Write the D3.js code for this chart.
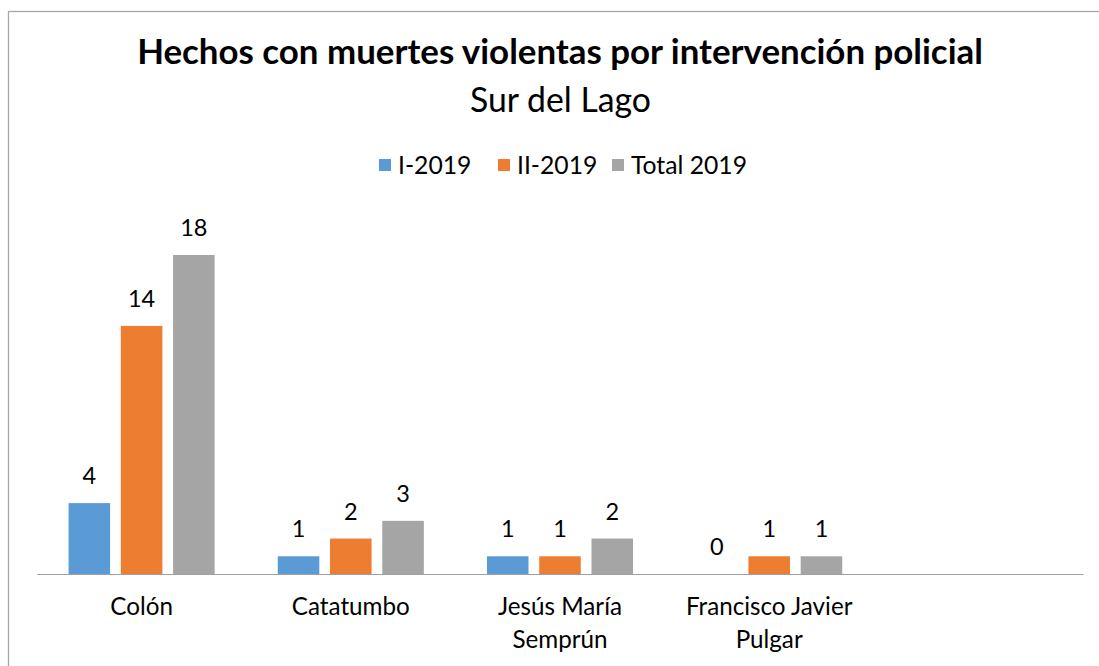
<!DOCTYPE html>
<html>
<head>
<meta charset="utf-8">
<script src="https://cdn.jsdelivr.net/npm/d3@7"></script>
<style>
  html, body { margin: 0; padding: 0; background: #fff; }
  svg { display: block; }
  text { font-family: Lato, "Open Sans", sans-serif; fill: #000; }
</style>
</head>
<body>
<svg id="chart" width="1099" height="666"></svg>
<script>
// ---- data ----
const titleText = "Hechos con muertes violentas por intervención policial";
const subtitleText = "Sur del Lago";
const categories = ["Colón", "Catatumbo", "Jesús María Semprún", "Francisco Javier Pulgar", ""];
const seriesNames = ["I-2019", "II-2019", "Total 2019"];
const seriesI = [4, 1, 1, 0, null];
const seriesII = [14, 2, 1, 1, null];
const seriesTotal = [18, 3, 2, 1, null];
const seriesColors = ["#5b9bd5", "#ed7d31", "#a5a5a5"];

const seriesValues = [seriesI, seriesII, seriesTotal];

const svg = d3.select("#chart");
const W = 1099, H = 666;

// text measurement helper
const measurer = svg.append("text").attr("x", -1000).attr("y", -1000);
function textWidth(str, size, weight) {
  measurer.attr("font-size", size).attr("font-weight", weight || "normal").text(str);
  return measurer.node().getComputedTextLength();
}
function fitSize(str, target, weight) {
  const w = textWidth(str, 100, weight);
  return 100 * target / w;
}

const titleSize = fitSize(titleText, 846, "bold");
const subSize = fitSize(subtitleText, 181, "normal");
const legendSize = fitSize("Total 2019", 116, "normal");
const catSize = fitSize("Catatumbo", 118, "normal");
const valSize = 23.5;
measurer.remove();

// border
svg.append("rect")
  .attr("x", 8.5).attr("y", 11.5)
  .attr("width", W).attr("height", H)
  .attr("fill", "none")
  .attr("stroke", "#a6a6a6")
  .attr("stroke-width", 1.3);

// title
svg.append("text")
  .attr("x", 560).attr("y", 64)
  .attr("text-anchor", "middle")
  .attr("font-weight", "bold")
  .attr("font-size", titleSize)
  .text(titleText);
svg.append("text")
  .attr("x", 560.5).attr("y", 111.5)
  .attr("text-anchor", "middle")
  .attr("font-size", subSize)
  .text(subtitleText);

// scales
const plotLeft = 37, plotRight = 1083, baseY = 574;
const x0 = d3.scaleBand().domain(d3.range(categories.length)).range([plotLeft, plotRight]).padding(0);
const x1 = d3.scaleBand().domain(d3.range(seriesNames.length))
  .range([0, x0.bandwidth()]).paddingInner(0.205).paddingOuter(0.604);
const y = d3.scaleLinear().domain([0, 18]).range([baseY, 255]);

// bars
seriesValues.forEach((vals, s) => {
  const g = svg.append("g");
  const pts = vals.map((v, i) => ({ v, i })).filter(d => d.v !== null);
  g.selectAll("rect").data(pts).enter().append("rect")
    .attr("x", d => x0(d.i) + x1(s))
    .attr("y", d => y(d.v))
    .attr("width", x1.bandwidth())
    .attr("height", d => y(0) - y(d.v))
    .attr("fill", seriesColors[s]);
  g.selectAll("text").data(pts).enter().append("text")
    .attr("x", d => x0(d.i) + x1(s) + x1.bandwidth() / 2)
    .attr("y", d => y(d.v) - 19)
    .attr("text-anchor", "middle")
    .attr("font-size", valSize)
    .text(d => d.v);
});

// x axis
const xAxis = d3.axisBottom(x0).tickSize(0).tickFormat(() => "");
const axG = svg.append("g").attr("transform", `translate(0,${baseY})`).call(xAxis);
axG.select(".domain").attr("stroke", "#a0a0a0").attr("stroke-width", 1.2);

// category labels with wrapping
const catMeasure = svg.append("text").attr("x", -1000).attr("y", -1000).attr("font-size", catSize);
function textWidthCat(s) { catMeasure.text(s); return catMeasure.node().getComputedTextLength(); }
function wrapLines(str, maxW) {
  const words = str.split(" ");
  const lines = [];
  let cur = "";
  words.forEach(w => {
    const t = cur ? cur + " " + w : w;
    if (cur && textWidthCat(t) > maxW) { lines.push(cur); cur = w; }
    else cur = t;
  });
  if (cur) lines.push(cur);
  return lines;
}
categories.forEach((c, i) => {
  if (!c) return;
  const lines = wrapLines(c, 200);
  const cxx = x0(i) + x0.bandwidth() / 2;
  const t = svg.append("text")
    .attr("x", cxx)
    .attr("y", 615)
    .attr("text-anchor", "middle")
    .attr("font-size", catSize);
  lines.forEach((ln, k) => {
    t.append("tspan").attr("x", cxx).attr("y", 615 + k * 33).text(ln);
  });
});
catMeasure.remove();

// legend
const legendX = [379, 498, 612];
const sq = 12, gapText = 6;
seriesNames.forEach((n, s) => {
  const it = svg.append("g").attr("transform", `translate(${legendX[s]},0)`);
  it.append("rect").attr("x", 0).attr("y", 159).attr("width", sq).attr("height", sq).attr("fill", seriesColors[s]);
  it.append("text").attr("x", sq + gapText + 1).attr("y", 174).attr("font-size", legendSize).text(n);
});
</script>
</body>
</html>
